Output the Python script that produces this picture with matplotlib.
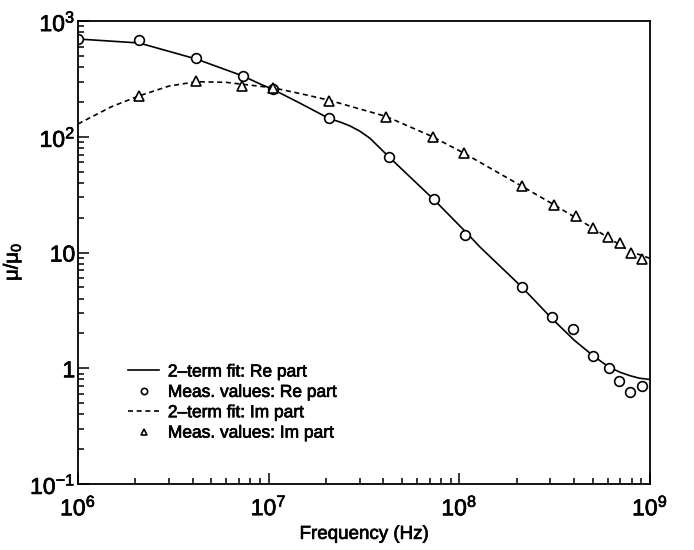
import numpy as np
import matplotlib
matplotlib.use("Agg")
import matplotlib.pyplot as plt
import matplotlib.patheffects as pe
from matplotlib.ticker import FixedLocator, FixedFormatter, LogLocator, NullFormatter

plt.rcParams['font.family'] = ['Liberation Sans', 'DejaVu Sans']
plt.rcParams['mathtext.fontset'] = 'custom'
plt.rcParams['mathtext.rm'] = 'Liberation Sans'
plt.rcParams['mathtext.it'] = 'Liberation Sans'
plt.rcParams['mathtext.default'] = 'regular'

re_fit_f = [1e6, 2.09e6, 4.16e6, 7.33e6, 9.0e6, 1.05e7, 1.46e7, 2.07e7, 2.4e7, 2.67e7,
            3.0e7, 3.4e7, 4.28e7, 7.33e7, 1.07e8, 1.28e8, 1.45e8, 2.12e8, 3.05e8,
            4.0e8, 5.04e8, 6.08e8, 7.0e8, 7.9e8, 8.8e8, 1e9]
re_fit_v = [699, 646, 470, 335, 286, 257, 195, 144, 133, 124,
            112, 97, 66.8, 28.8, 15.3, 11.2, 9.2, 5.06, 2.70,
            1.75, 1.28, 1.025, 0.92, 0.86, 0.82, 0.80]

# measured values, real part
re_meas_f = [1e6, 2.09e6, 4.16e6, 7.33e6, 1.05e7, 2.07e7, 4.28e7, 7.33e7, 1.07e8,
             2.12e8, 3.07e8, 3.96e8, 5.04e8, 6.08e8, 6.87e8, 7.85e8, 9.04e8]
re_meas_v = [695, 685, 479, 335, 257, 144, 66.8, 28.8, 14.2,
             5.06, 2.75, 2.20, 1.28, 1.01, 0.776, 0.62, 0.706]

# 2-term fit, imaginary part (dashed curve)
im_fit_f = [1e6, 1.5e6, 2.1e6, 3e6, 4.17e6, 6e6, 1.05e7, 1.5e7, 2.07e7, 3e7,
            4.12e7, 7.25e7, 1.06e8, 2.12e8, 3.12e8, 5e8, 7.9e8, 1e9]
im_fit_v = [129, 182, 226, 274, 299, 295, 265, 234, 207, 174,
            150, 100, 72, 37.5, 26, 16.3, 10.2, 8.9]

# measured values, imaginary part
im_meas_f = [2.1e6, 4.17e6, 7.25e6, 1.05e7, 2.07e7, 4.12e7, 7.25e7, 1.06e8, 2.12e8,
             3.12e8, 4.08e8, 5.0e8, 6.04e8, 6.95e8, 7.91e8, 9.1e8]
im_meas_v = [226, 303, 274, 262, 205, 149, 98.9, 71.9, 37.8,
             25.9, 20.7, 16.2, 13.7, 12.2, 10.0, 8.75]

y_ticks = [0.1, 1, 10, 100, 1000]
y_labels = ['$10^{-1}$', '1', '10', '$10^{2}$', '$10^{3}$']
x_ticks = [1e6, 1e7, 1e8, 1e9]
x_labels = ['$10^{6}$', '$10^{7}$', '$10^{8}$', '$10^{9}$']

fig = plt.figure(figsize=(6.94, 5.5), dpi=100)
ax = fig.add_axes([78/694, 1 - 484/550, 572/694, 463/550])

ax.plot(re_fit_f, re_fit_v, 'k-', lw=1.2, label='2\u2013term fit: Re part')
ax.plot(re_meas_f, re_meas_v, 'o', ms=7, mfc='white', mec='black', mew=1.2,
        ls='none', label='Meas. values: Re part')
ax.plot(im_fit_f, im_fit_v, 'k--', lw=1.2, dashes=(3.0, 2.2), label='2\u2013term fit: Im part')
ax.plot(im_meas_f, im_meas_v, '^', ms=6.5, mfc='white', mec='black', mew=1.2,
        ls='none', label='Meas. values: Im part')

ax.set_xscale('log')
ax.set_yscale('log')
ax.set_xlim(1e6, 1e9)
ax.set_ylim(0.1, 1000)

ax.xaxis.set_major_locator(FixedLocator(x_ticks))
ax.xaxis.set_major_formatter(FixedFormatter(x_labels))
ax.yaxis.set_major_locator(FixedLocator(y_ticks))
ax.yaxis.set_major_formatter(FixedFormatter(y_labels))
ax.xaxis.set_minor_locator(LogLocator(base=10, subs=np.arange(2, 10), numticks=20))
ax.yaxis.set_minor_locator(LogLocator(base=10, subs=np.arange(2, 10), numticks=20))
ax.xaxis.set_minor_formatter(NullFormatter())
ax.yaxis.set_minor_formatter(NullFormatter())

ax.tick_params(which='both', direction='in', top=False, right=False, labelsize=16.5, width=1.1)
ax.tick_params(which='major', length=8)
ax.tick_params(which='minor', length=4)
ax.tick_params(axis='x', which='major', pad=8)
ax.tick_params(axis='y', which='major', pad=2)
for s in ax.spines.values():
    s.set_linewidth(1.3)

ax.set_xlabel('Frequency (Hz)', fontsize=13.5, labelpad=4)
ax.set_ylabel(r'$\mathrm{\mu/\mu_0}$', fontsize=14.5)
ax.yaxis.set_label_coords(-0.095, 0.48)

leg = ax.legend(loc='lower left', bbox_to_anchor=(0.06, 0.06), frameon=False, fontsize=12.5,
                handlelength=1.8, handletextpad=0.5, labelspacing=0.3, markerscale=0.65)

# slightly heavier text, like the printed original
thick = [pe.withStroke(linewidth=0.5, foreground='black')]
for t in ax.get_xticklabels() + ax.get_yticklabels() + leg.get_texts():
    t.set_path_effects(thick)
ax.xaxis.label.set_path_effects(thick)
ax.yaxis.label.set_path_effects(thick)

plt.savefig('out.png', dpi=100)
